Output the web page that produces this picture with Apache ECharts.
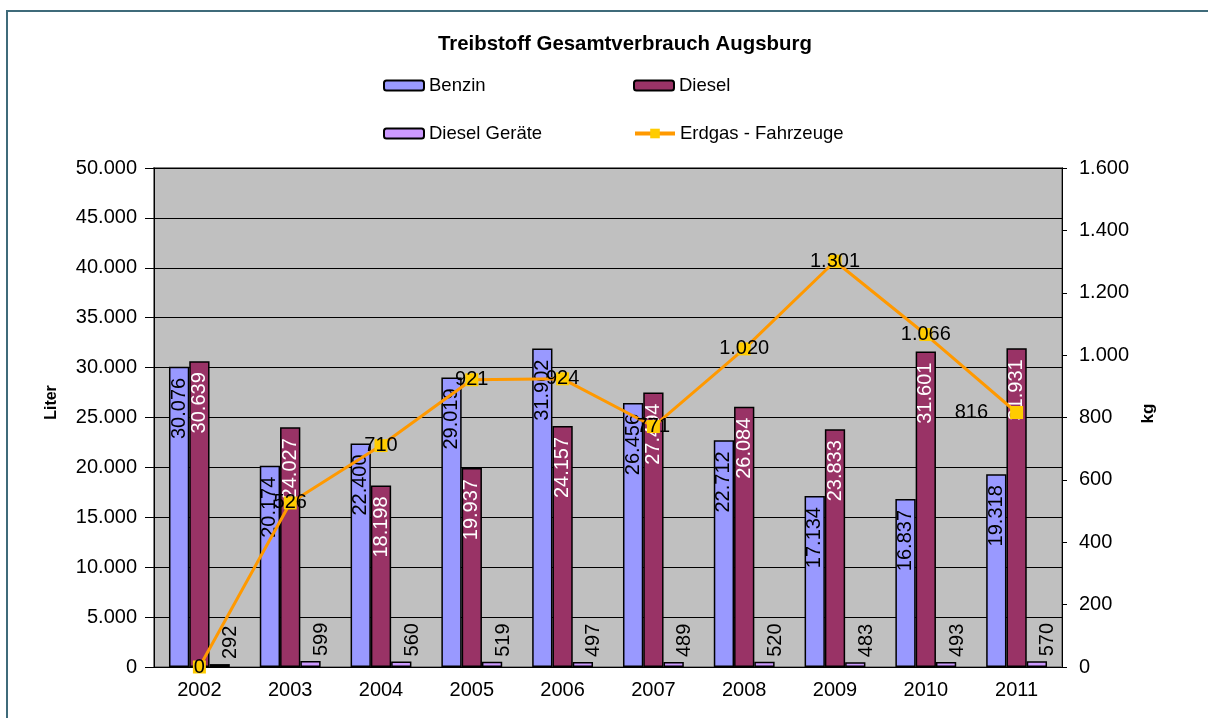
<!DOCTYPE html>
<html>
<head>
<meta charset="utf-8">
<title>Treibstoff Gesamtverbrauch Augsburg</title>
<script src="https://cdn.jsdelivr.net/npm/echarts@6/dist/echarts.min.js"></script>
<style>
  html, body { margin: 0; padding: 0; background: #fff; }
  #chart { width: 1208px; height: 718px; }
</style>
</head>
<body>
<div id="chart"></div>
<script>
'use strict';

const YEARS = ['2002', '2003', '2004', '2005', '2006', '2007', '2008', '2009', '2010', '2011'];
const BENZIN = [30076, 20174, 22400, 29019, 31902, 26456, 22712, 17134, 16837, 19318];
const DIESEL = [30639, 24027, 18198, 19937, 24157, 27494, 26084, 23833, 31601, 31931];
const DIESEL_GERAETE = [292, 599, 560, 519, 497, 489, 520, 483, 493, 570];
const ERDGAS = [0, 526, 710, 921, 924, 771, 1020, 1301, 1066, 816];

const FONT = '"Liberation Sans", Arial, sans-serif';
const FS = 20; // Achsen- und Datenbeschriftung

// deutsche Tausendertrennung: 30076 -> 30.076
function fmt(v) {
  return String(v).replace(/\B(?=(\d{3})+(?!\d))/g, '.');
}

function legendAt(name, left, top, extra) {
  return Object.assign({
    data: [name],
    left: left,
    top: top,
    padding: 0,
    itemWidth: 40,
    itemHeight: 10,
    selectedMode: false,
    textStyle: { fontFamily: FONT, fontSize: 18.5, color: '#000' }
  }, extra || {});
}

const barLabelInside = (color) => ({
  show: true,
  position: 'insideTop',
  rotate: 90,
  align: 'right',
  verticalAlign: 'middle',
  distance: 11,
  color: color,
  fontFamily: FONT,
  fontSize: FS,
  formatter: (p) => fmt(p.value)
});

const chart = echarts.init(document.getElementById('chart'));

chart.setOption({
  animation: false,
  backgroundColor: '#fff',
  textStyle: { fontFamily: FONT },
  graphic: [{
    type: 'rect',
    shape: { x: 7, y: 11, width: 1400, height: 900 },
    style: { fill: 'none', stroke: '#3F6B7A', lineWidth: 2 },
    silent: true
  }],
  title: {
    text: 'Treibstoff Gesamtverbrauch Augsburg',
    left: 438,
    top: 34,
    padding: 0,
    textStyle: { fontFamily: FONT, fontSize: 20.4, fontWeight: 'bold', color: '#000' }
  },
  legend: [
    legendAt('Benzin', 383, 76),
    legendAt('Diesel', 633, 76),
    legendAt('Diesel Geräte', 383, 124),
    legendAt('Erdgas - Fahrzeuge', 633, 124, { itemHeight: 12, lineStyle: { width: 4 } })
  ],
  grid: {
    left: 154,
    right: 146,
    top: 168,
    bottom: 51,
    show: true,
    backgroundColor: '#C0C0C0',
    borderColor: '#808080',
    borderWidth: 2
  },
  xAxis: {
    type: 'category',
    data: YEARS,
    axisLine: { lineStyle: { color: '#000', width: 1 } },
    axisTick: { length: 6, lineStyle: { color: '#000' } },
    axisLabel: { color: '#000', fontFamily: FONT, fontSize: FS, margin: 13 }
  },
  yAxis: [{
    type: 'value',
    min: 0,
    max: 50000,
    interval: 5000,
    name: 'Liter',
    nameLocation: 'middle',
    nameGap: 94,
    nameTextStyle: {
      fontFamily: FONT, fontSize: 16, fontWeight: 'bold', color: '#000',
      padding: [0, 0, 0, 30]
    },
    axisLine: { show: true, lineStyle: { color: '#000' } },
    axisTick: { show: true, length: 9, lineStyle: { color: '#000' } },
    axisLabel: { color: '#000', fontFamily: FONT, fontSize: FS, margin: 17, formatter: fmt },
    splitLine: { show: true, lineStyle: { color: '#000', width: 1 } }
  }, {
    type: 'value',
    position: 'right',
    min: 0,
    max: 1600,
    interval: 200,
    name: 'kg',
    nameLocation: 'middle',
    nameGap: 70,
    nameRotate: 90,
    nameTextStyle: {
      fontFamily: FONT, fontSize: 17, fontWeight: 'bold', color: '#000',
      padding: [0, 0, 0, 8]
    },
    axisLine: { show: true, lineStyle: { color: '#000' } },
    axisTick: { show: true, length: 5, lineStyle: { color: '#000' } },
    axisLabel: { color: '#000', fontFamily: FONT, fontSize: FS, margin: 17, formatter: fmt },
    splitLine: { show: false }
  }],
  series: [{
    name: 'Benzin',
    type: 'bar',
    data: BENZIN,
    barGap: '0%',
    barCategoryGap: '33%',
    itemStyle: { color: '#9999FF', borderColor: '#000', borderWidth: 1.5 },
    label: barLabelInside('#000')
  }, {
    name: 'Diesel',
    type: 'bar',
    data: DIESEL,
    itemStyle: { color: '#993366', borderColor: '#000', borderWidth: 1.5 },
    label: barLabelInside('#fff')
  }, {
    name: 'Diesel Geräte',
    type: 'bar',
    data: DIESEL_GERAETE,
    itemStyle: { color: '#CC99FF', borderColor: '#000', borderWidth: 1.5 },
    label: {
      show: true,
      position: 'top',
      rotate: 90,
      align: 'left',
      verticalAlign: 'middle',
      distance: 5,
      offset: [0, 11],
      color: '#000',
      fontFamily: FONT,
      fontSize: FS,
      formatter: (p) => fmt(p.value)
    }
  }, {
    name: 'Erdgas - Fahrzeuge',
    type: 'line',
    yAxisIndex: 1,
    z: 5,
    data: ERDGAS.map((v, i) => (i === ERDGAS.length - 1
      ? { value: v, label: { position: 'left', distance: 22 } }
      : v)),
    symbol: 'rect',
    symbolSize: 13,
    lineStyle: { color: '#FF9900', width: 3 },
    itemStyle: { color: '#FFCC00' },
    label: {
      show: true,
      position: 'inside',
      color: '#000',
      fontFamily: FONT,
      fontSize: FS,
      formatter: (p) => fmt(p.value)
    }
  }]
});
</script>
</body>
</html>
